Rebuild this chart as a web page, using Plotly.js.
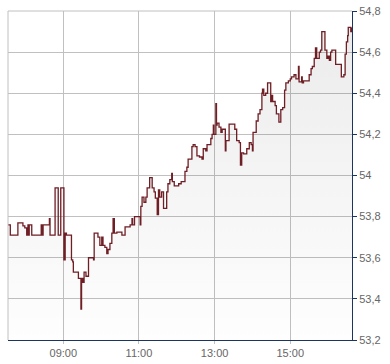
<!DOCTYPE html>
<html>
<head>
<meta charset="utf-8">
<script src="https://cdn.plot.ly/plotly-3.0.1.min.js"></script>
<style>html,body{margin:0;padding:0;background:#fff;}#chart{width:390px;height:364px;}</style>
</head>
<body>
<div id="chart"></div>
<script>
var day = "2024-01-02 ";
var times = ["07:32","07:36","07:48","07:56","07:59","08:02","08:04","08:05","08:06","08:10","08:25","08:27","08:28","08:38","08:39","08:47","08:52","08:56","09:01","09:03","09:05","09:13","09:15","09:16","09:24","09:28","09:29","09:31","09:33","09:36","09:40","09:48","09:49","09:55","09:58","10:01","10:03","10:06","10:09","10:11","10:14","10:17","10:19","10:21","10:25","10:33","10:38","10:46","10:49","10:50","10:53","11:02","11:03","11:05","11:08","11:11","11:13","11:17","11:21","11:24","11:26","11:29","11:31","11:33","11:36","11:39","11:44","11:46","11:49","11:52","11:53","11:56","12:03","12:07","12:13","12:16","12:18","12:24","12:26","12:29","12:32","12:36","12:40","12:42","12:46","12:48","12:54","12:56","12:58","12:59","13:02","13:03","13:04","13:07","13:10","13:12","13:17","13:18","13:23","13:32","13:35","13:39","13:41","13:43","13:46","13:51","13:55","13:58","14:00","14:01","14:06","14:09","14:12","14:15","14:16","14:18","14:21","14:24","14:29","14:30","14:32","14:36","14:38","14:42","14:45","14:48","14:51","14:53","14:57","15:00","15:02","15:06","15:09","15:13","15:14","15:18","15:19","15:21","15:30","15:33","15:35","15:38","15:40","15:42","15:46","15:48","15:50","15:55","15:58","16:00","16:02","16:04","16:06","16:12","16:21","16:25","16:27","16:29","16:31","16:32","16:35","16:36","16:38"];
var prices = [53.76,53.71,53.77,53.755,53.745,53.71,53.76,53.71,53.76,53.71,53.76,53.71,53.76,53.79,53.71,53.94,53.71,53.94,53.59,53.72,53.71,53.59,53.58,53.53,53.50,53.35,53.50,53.48,53.53,53.51,53.60,53.59,53.72,53.70,53.66,53.70,53.66,53.65,53.62,53.64,53.67,53.72,53.79,53.72,53.725,53.71,53.75,53.76,53.79,53.76,53.80,53.76,53.85,53.895,53.87,53.895,53.94,53.99,53.94,53.92,53.89,53.81,53.93,53.895,53.92,53.84,53.92,53.96,53.98,54.01,53.97,53.95,53.96,53.97,54.02,54.04,54.08,54.14,54.15,54.14,54.095,54.09,54.08,54.13,54.12,54.15,54.18,54.20,54.245,54.20,54.35,54.245,54.255,54.235,54.21,54.225,54.12,54.17,54.25,54.225,54.17,54.16,54.05,54.11,54.105,54.13,54.16,54.15,54.12,54.21,54.265,54.30,54.32,54.40,54.42,54.39,54.40,54.45,54.36,54.39,54.36,54.34,54.30,54.26,54.32,54.33,54.415,54.45,54.46,54.47,54.48,54.49,54.47,54.53,54.455,54.48,54.45,54.46,54.49,54.52,54.53,54.57,54.62,54.57,54.60,54.61,54.70,54.61,54.57,54.58,54.56,54.60,54.61,54.54,54.48,54.49,54.59,54.65,54.68,54.72,54.72,54.70,54.72];
var yMin = 53.2, yMax = 54.8;
var xStart = "07:32:20", xEnd = "16:37:55";

var x = times.map(function(t){ return day + t; });

var trace = {
  type: "scatter",
  mode: "lines",
  x: x,
  y: prices,
  line: {shape: "hv", color: "#6e1e24", width: 1.3},
  fill: "tozeroy",
  fillgradient: {
    type: "vertical",
    start: yMin,
    stop: yMax,
    colorscale: [[0, "rgba(0,0,0,0.005)"], [1, "rgba(0,0,0,0.08)"]]
  },
  hoverinfo: "skip"
};

var layout = {
  width: 390,
  height: 364,
  margin: {l: 8, r: 38, t: 11, b: 24, pad: 0},
  paper_bgcolor: "#ffffff",
  plot_bgcolor: "#ffffff",
  showlegend: false,
  separators: ",.",
  font: {family: "Liberation Sans, Arial, sans-serif", size: 11, color: "#666666"},
  xaxis: {
    type: "date",
    range: [day + xStart, day + xEnd],
    tick0: day + "09:00",
    dtick: 7200000,
    tickformat: "%H:%M",
    showgrid: true,
    gridcolor: "#c0c0c0",
    gridwidth: 1,
    showline: true,
    linecolor: "#1c3560",
    linewidth: 1,
    ticks: "outside",
    ticklen: 3,
    tickcolor: "#c0c0c0",
    tickfont: {size: 11, color: "#666666"},
    zeroline: false,
    fixedrange: true
  },
  yaxis: {
    side: "right",
    range: [yMin, yMax],
    dtick: 0.2,
    tick0: yMin,
    showgrid: true,
    gridcolor: "#c0c0c0",
    gridwidth: 1,
    showline: true,
    linecolor: "#1c3560",
    linewidth: 1,
    ticks: "outside",
    ticklen: 4,
    tickcolor: "#1c3560",
    tickfont: {size: 11, color: "#666666"},
    zeroline: false,
    fixedrange: true
  },
  shapes: [
    {type: "line", xref: "paper", yref: "paper", x0: 0, x1: 0, y0: 0, y1: 1, line: {color: "#c0c0c0", width: 1}},
    {type: "line", xref: "paper", yref: "paper", x0: 0, x1: 1, y0: 1, y1: 1, line: {color: "#c0c0c0", width: 1}}
  ]
};

Plotly.newPlot("chart", [trace], layout, {staticPlot: true, displayModeBar: false});
</script>
</body>
</html>
